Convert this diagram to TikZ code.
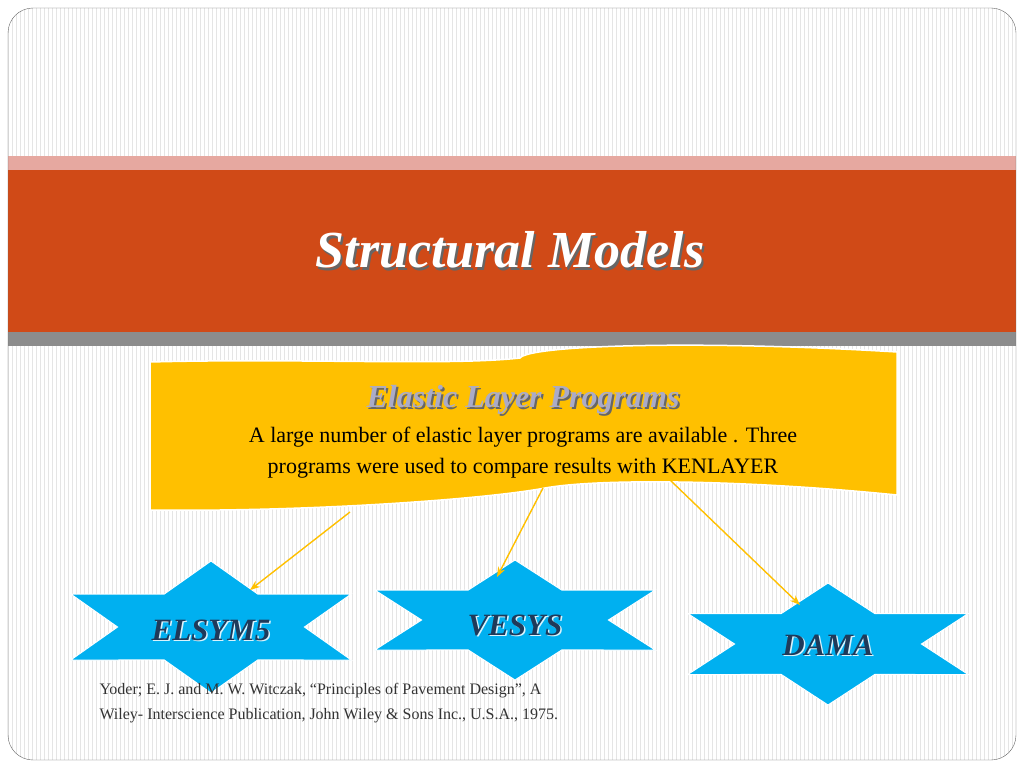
\documentclass[tikz,border=0pt]{standalone}
\usepackage{fontspec}
\setmainfont{Liberation Serif}
\usetikzlibrary{arrows.meta}
\definecolor{bandred}{HTML}{D04A17}
\definecolor{bandpink}{HTML}{E6A8A0}
\definecolor{ban}{HTML}{FFC000}
\definecolor{starc}{HTML}{00B0F0}
\definecolor{startx}{HTML}{1F3A5A}
\begin{document}
\begin{tikzpicture}[x=1pt,y=-1pt,
  title/.style={font=\fontsize{52}{56}\selectfont\bfseries\itshape},
  startext/.style={font=\fontsize{31}{33}\selectfont\bfseries\itshape},
  arr/.style={draw=ban,line width=1.4pt,-{Stealth[length=10pt]}},
  body/.style={font=\fontsize{22}{31}\selectfont,align=center},
  foot/.style={font=\fontsize{16}{25}\selectfont,align=left,text=black!80}]
\useasboundingbox (0,0) rectangle (1024,768);
\fill[white] (0,0) rectangle (1024,768);
\begin{scope}
\clip[rounded corners=25pt] (8,8) rectangle (1016,760);
\foreach \x in {8,12,...,1016} \draw[black!10,line width=0.5pt] (\x,8) -- (\x,760);
\fill[bandpink] (7,156) rectangle (1017,170);
\fill[bandred] (7,170) rectangle (1017,332);
\fill[black!45] (7,332) rectangle (1017,346);
\end{scope}
\draw[black!60,rounded corners=25pt] (8,8) rectangle (1016,760);
\node[title,text=black!60] at (512,253) {Structural Models};
\node[title,text=white] (t) at (510,250) {Structural Models};
% banner
\fill[ban,draw=white,line width=1.5pt] (150,362) .. controls (300,358) and (450,366) .. (520,358)
  .. controls (530,345) and (700,340) .. (897,352) -- (897,495)
  .. controls (750,480) and (600,478) .. (545,488) .. controls (480,500) and (300,512) .. (150,510) -- cycle;
\node[font=\fontsize{32}{34}\selectfont\bfseries\itshape,text=black!60] at (525,402) {Elastic Layer Programs};
\node[font=\fontsize{32}{34}\selectfont\bfseries\itshape,text=blue!20!gray!55!white] (h) at (523,400) {Elastic Layer Programs};
\node[body] (b) at (523,453) {A large number of elastic layer programs are available . Three\\programs were used to compare results with KENLAYER};
% stars
\foreach \n/\cx/\cy/\rx/\ry in {e/211/627/162/66,v/515/620/162/60,d/828/644/162/61}{
  \fill[starc,draw=white,line width=1pt]
   (\cx,\cy-\ry) -- ({\cx+0.577*\rx*cos(60)},{\cy-0.577*\ry*sin(60)})
   -- ({\cx+\rx*cos(30)},{\cy-\ry*sin(30)}) -- ({\cx+0.577*\rx},\cy)
   -- ({\cx+\rx*cos(30)},{\cy+\ry*sin(30)}) -- ({\cx+0.577*\rx*cos(60)},{\cy+0.577*\ry*sin(60)})
   -- (\cx,\cy+\ry) -- ({\cx-0.577*\rx*cos(60)},{\cy+0.577*\ry*sin(60)})
   -- ({\cx-\rx*cos(30)},{\cy+\ry*sin(30)}) -- ({\cx-0.577*\rx},\cy)
   -- ({\cx-\rx*cos(30)},{\cy-\ry*sin(30)}) -- ({\cx-0.577*\rx*cos(60)},{\cy-0.577*\ry*sin(60)}) -- cycle;
  \coordinate (\n) at (\cx,\cy);
}
\foreach \n/\x/\y/\t in {es/211/630/ELSYM5,vs/515/625/VESYS,ds/828/645/DAMA}{
  \node[startext,text=white!85!starc] at (\x+1.5,\y+1.5) {\t};
  \node[startext,text=startx] (\n) at (\x,\y) {\t};
}
\coordinate (a1) at (350,512); \coordinate (a2) at (543,488); \coordinate (a3) at (670,480);
\coordinate (e1) at (250,590); \coordinate (v1) at (497,577); \coordinate (d1) at (800,605);
\draw[arr] (a1) -- (e1);
\draw[arr] (a2) -- (v1);
\draw[arr] (a3) -- (d1);
\node[foot,anchor=north west] (f) at (96,680) {Yoder; E. J. and M. W. Witczak, “Principles of Pavement Design”, A\\Wiley- Interscience Publication, John Wiley \& Sons Inc., U.S.A., 1975.};
\end{tikzpicture}
\end{document}
